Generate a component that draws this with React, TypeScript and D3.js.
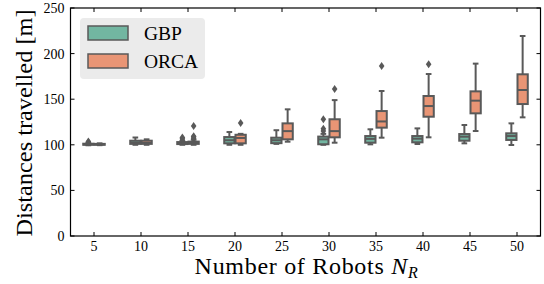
import React from 'react';
import * as d3 from 'd3';

// robots per trial
const categories = [5, 10, 15, 20, 25, 30, 35, 40, 45, 50];
const seriesNames = ['GBP', 'ORCA'];
const seriesColors = ['#72b6a1', '#e99575'];

// box stats per category: lower whisker, q1, median, q3, upper whisker
const gbpLow = [99.5, 100, 100, 100, 101, 100, 100.5, 100.9, 101.6, 99.8];
const gbpQ1 = [100, 101, 100.8, 101.6, 101.8, 100.6, 102.3, 102.7, 104.5, 105.3];
const gbpMed = [100.5, 102.5, 101.8, 105, 105, 106, 106.5, 106.7, 108.9, 109.6];
const gbpQ3 = [101.2, 104.5, 103, 108.5, 107.8, 109, 109.6, 109.6, 111.8, 112.6];
const gbpHigh = [102, 108, 104, 114, 116, 112, 117, 118, 121.7, 123.5];
const gbpOutliers = [[102.8, 103.6], [], [105, 106.5, 108], [], [], [115, 117.5, 128], [], [], [], []];

const orcaLow = [99.6, 100, 100, 100, 103.4, 102.3, 107.8, 108.2, 115.1, 130.1];
const orcaQ1 = [100, 101, 101, 101.6, 106, 108.2, 118.8, 130.8, 134.5, 144.7];
const orcaMed = [100.4, 102, 102, 107.5, 115, 115, 125.6, 142.5, 148.4, 160.1];
const orcaQ3 = [101, 104.5, 103.5, 111, 123.5, 128, 137, 153.5, 158.6, 177.3];
const orcaHigh = [101.6, 106, 105.5, 112, 138.9, 149, 159, 177.6, 189, 219.3];
const orcaOutliers = [[], [], [107, 108.5, 109.5, 120.5], [123.8], [], [161.2], [186.4], [188.3], [], []];

const yTicks = [0, 50, 100, 150, 200, 250];

const W = 544;
const H = 284;
const left = 70.5, right = 540.5, top = 8, bottom = 236;
const gray = '#595959';
const font = '"Liberation Serif", "Times New Roman", serif';

const App = () => {
  const x = d3.scaleBand<number>().domain(categories).range([left, right]).padding(0);
  const y = d3.scaleLinear().domain([0, 250]).range([bottom, top]);
  const dodge = x.bandwidth() * 0.48;
  const hue = d3.scaleBand<string>().domain(seriesNames).range([-dodge / 2, dodge / 2]);
  const boxW = hue.bandwidth() - 1;

  const stats = [
    { low: gbpLow, q1: gbpQ1, med: gbpMed, q3: gbpQ3, high: gbpHigh, out: gbpOutliers },
    { low: orcaLow, q1: orcaQ1, med: orcaMed, q3: orcaQ3, high: orcaHigh, out: orcaOutliers },
  ];

  const diamond = (cx: number, cy: number) =>
    `M${cx},${cy - 4}L${cx + 2.8},${cy}L${cx},${cy + 4}L${cx - 2.8},${cy}Z`;

  return (
    <svg width={W} height={H} style={{ position: 'absolute', left: 0, top: 0 }} fontFamily={font}>
      <rect width={W} height={H} fill="#fff" />

      {/* boxes */}
      {seriesNames.map((name, si) => {
        const s = stats[si];
        return (
          <g key={name}>
            {categories.map((c, i) => {
              const cx = x(c)! + x.bandwidth() / 2 + hue(name)! + hue.bandwidth() / 2;
              const capW = boxW * 0.55;
              return (
                <g key={c}>
                  <line x1={cx} x2={cx} y1={y(s.q3[i])} y2={y(s.high[i])} stroke={gray} strokeWidth={2} />
                  <line x1={cx} x2={cx} y1={y(s.q1[i])} y2={y(s.low[i])} stroke={gray} strokeWidth={2} />
                  <line x1={cx - capW / 2} x2={cx + capW / 2} y1={y(s.high[i])} y2={y(s.high[i])} stroke={gray} strokeWidth={2} />
                  <line x1={cx - capW / 2} x2={cx + capW / 2} y1={y(s.low[i])} y2={y(s.low[i])} stroke={gray} strokeWidth={2} />
                  <rect x={cx - boxW / 2} width={boxW} y={y(s.q3[i])} height={y(s.q1[i]) - y(s.q3[i])}
                    fill={seriesColors[si]} stroke={gray} strokeWidth={2} />
                  <line x1={cx - boxW / 2} x2={cx + boxW / 2} y1={y(s.med[i])} y2={y(s.med[i])} stroke={gray} strokeWidth={2} />
                  {s.out[i].map((v, k) => (
                    <path key={k} d={diamond(cx, y(v))} fill={gray} />
                  ))}
                </g>
              );
            })}
          </g>
        );
      })}

      {/* frame */}
      <rect x={left} y={top} width={right - left} height={bottom - top} fill="none" stroke="#000" strokeWidth={1.2} />

      {/* y ticks, inward on both sides */}
      {yTicks.map(t => (
        <g key={t}>
          <line x1={left} x2={left + 4} y1={y(t)} y2={y(t)} stroke="#000" strokeWidth={1} />
          <line x1={right} x2={right - 4} y1={y(t)} y2={y(t)} stroke="#000" strokeWidth={1} />
          <text x={left - 6} y={y(t)} dy="0.35em" textAnchor="end" fontSize={14} fill="#000">{t}</text>
        </g>
      ))}

      {/* x ticks, inward top and bottom */}
      {categories.map(c => {
        const cx = x(c)! + x.bandwidth() / 2;
        return (
          <g key={c}>
            <line x1={cx} x2={cx} y1={bottom} y2={bottom - 4} stroke="#000" strokeWidth={1} />
            <line x1={cx} x2={cx} y1={top} y2={top + 4} stroke="#000" strokeWidth={1} />
            <text x={cx} y={bottom + 15} textAnchor="middle" fontSize={14} fill="#000">{c}</text>
          </g>
        );
      })}

      {/* axis labels */}
      <text transform={`translate(32,${(top + bottom) / 2 + 1}) rotate(-90)`} textAnchor="middle"
        fontSize={24} fill="#000" textLength={227} lengthAdjust="spacingAndGlyphs">Distances travelled [m]</text>
      <text x={(left + right) / 2 + 1} y={273.5} textAnchor="middle" fontSize={24} fill="#000" letterSpacing={0.7}>
        Number of Robots <tspan fontStyle="italic">N</tspan>
        <tspan fontStyle="italic" fontSize={16} dy={4}>R</tspan>
      </text>

      {/* legend */}
      <g>
        <rect x={80} y={18} width={125} height={61} rx={4} fill="#ebebeb" />
        {seriesNames.map((name, i) => (
          <g key={name} transform={`translate(0,${i * 28})`}>
            <rect x={88} y={26} width={40} height={14} fill={seriesColors[i]} stroke={gray} strokeWidth={1.5} />
            <text x={144} y={40} fontSize={19.5} fill="#000">{name}</text>
          </g>
        ))}
      </g>
    </svg>
  );
};

export default App;
